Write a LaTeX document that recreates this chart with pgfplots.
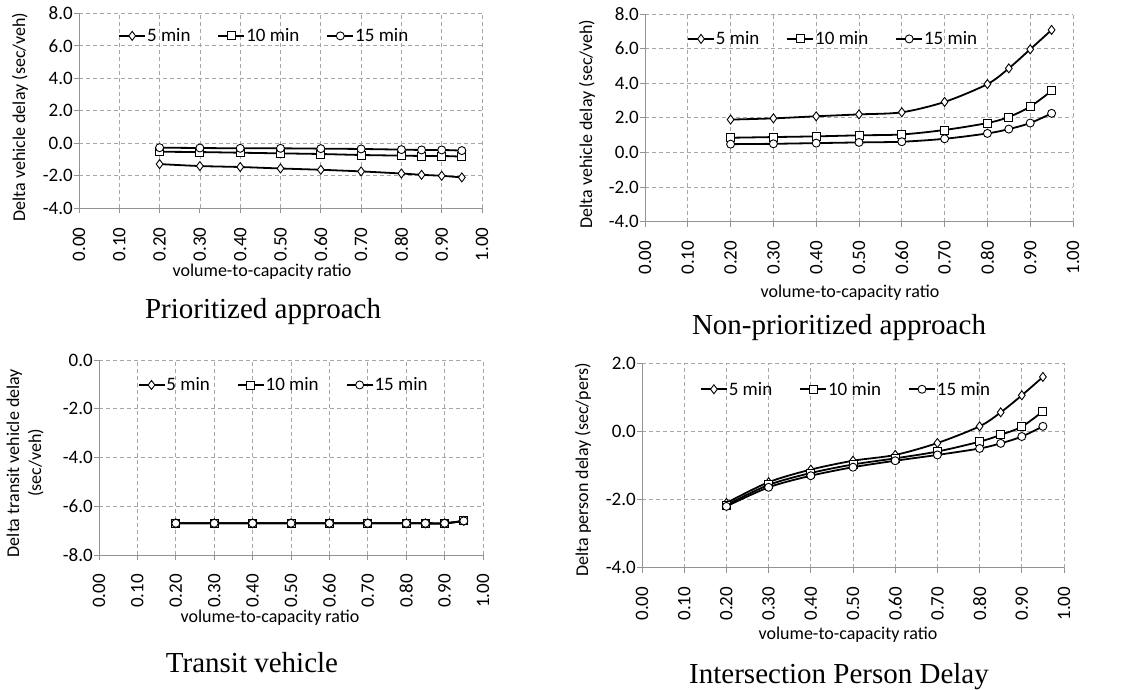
\documentclass[border=0pt]{standalone}
\usepackage{pgfplots}
\pgfplotsset{compat=1.18}
\usepackage{fontspec}
\setmainfont{Carlito}
\newfontfamily\timesf{Liberation Serif}
\newcommand\cf{\fontsize{18}{22}\selectfont}
\newcommand\lf{\fontsize{19}{22}\selectfont}
\newcommand\tf{\timesf\fontsize{29}{32}\selectfont}

\pgfplotstableread{
x a b c
0.20 -1.28 -0.52 -0.27
0.30 -1.40 -0.54 -0.29
0.40 -1.46 -0.58 -0.31
0.50 -1.55 -0.62 -0.31
0.60 -1.63 -0.66 -0.33
0.70 -1.73 -0.72 -0.35
0.80 -1.86 -0.76 -0.39
0.85 -1.94 -0.78 -0.41
0.90 -2.00 -0.78 -0.41
0.95 -2.10 -0.82 -0.45
}\tabA
\pgfplotstableread{
x a b c
0.20 1.90 0.85 0.48
0.30 1.97 0.89 0.50
0.40 2.09 0.93 0.54
0.50 2.20 0.99 0.58
0.60 2.32 1.04 0.62
0.70 2.92 1.30 0.79
0.80 3.95 1.70 1.10
0.85 4.86 2.05 1.35
0.90 5.96 2.65 1.70
0.95 7.08 3.56 2.26
}\tabB
\pgfplotstableread{
x a b c
0.20 -6.70 -6.70 -6.70
0.30 -6.70 -6.70 -6.70
0.40 -6.70 -6.70 -6.70
0.50 -6.70 -6.70 -6.70
0.60 -6.70 -6.70 -6.70
0.70 -6.70 -6.70 -6.70
0.80 -6.70 -6.70 -6.70
0.85 -6.70 -6.70 -6.70
0.90 -6.70 -6.70 -6.70
0.95 -6.60 -6.60 -6.60
}\tabC
\pgfplotstableread{
x a b c
0.20 -2.10 -2.16 -2.20
0.30 -1.49 -1.57 -1.64
0.40 -1.12 -1.22 -1.30
0.50 -0.86 -0.97 -1.05
0.60 -0.69 -0.79 -0.86
0.70 -0.34 -0.59 -0.69
0.80 0.15 -0.30 -0.50
0.85 0.56 -0.10 -0.35
0.90 1.06 0.14 -0.15
0.95 1.60 0.59 0.15
}\tabD

\pgfplotsset{
  panel/.style={
    scale only axis, anchor=south west,
    xmin=0, xmax=1,
    xtick={0,0.1,0.2,0.3,0.4,0.5,0.6,0.7,0.8,0.9,1},
    axis lines=left,
    axis line style={-, draw=gray!85, line width=0.9pt},
    tick style={draw=gray!85, line width=0.9pt},
    tick align=outside, major tick length=5pt,
    grid=major,
    grid style={draw=gray!70, line width=0.8pt, dash pattern=on 4pt off 3pt},
    /pgf/number format/assume math mode=true,
    ticklabel style={font=\lf},
    xticklabel style={rotate=90, anchor=east, inner sep=0pt,
      /pgf/number format/.cd, fixed, fixed zerofill, precision=2},
    xticklabel shift=14pt,
    yticklabel style={inner sep=1pt, /pgf/number format/.cd, fixed, fixed zerofill, precision=1},
    legend columns=3,
    legend style={draw=none, fill=none, inner sep=0pt, font=\lf, anchor=west,
      nodes={inner sep=1pt},
      /tikz/every even column/.append style={column sep=26pt}},
    legend image code/.code={\draw[mark repeat=2,mark phase=2,#1] plot coordinates {(0pt,0pt)(13pt,0pt)(26pt,0pt)};},
    every axis plot/.append style={black, line width=1.8pt, smooth},
    cycle list={
      {mark=diamond*, mark size=4.5pt, mark options={fill=white, solid, line width=0.9pt}},
      {mark=square*, mark size=4pt, mark options={fill=white, solid, line width=0.9pt}},
      {mark=*, mark size=4pt, mark options={fill=white, solid, line width=0.9pt}}
    },
  }
}

\begin{document}
\begin{tikzpicture}
\path[use as bounding box] (0,0) rectangle (1121pt,690pt);

% Panel 1
\begin{axis}[panel, at={(79pt,481.7pt)}, width=403pt, height=195pt,
  ymin=-4, ymax=8, ytick={-4,-2,0,2,4,6,8},
  legend style={at={(0.097,0.884)}}]
\addplot table[x=x,y=a]{\tabA};
\addplot table[x=x,y=b]{\tabA};
\addplot table[x=x,y=c]{\tabA};
\legend{5 min,10 min,15 min}
\end{axis}

% Panel 2
\begin{axis}[panel, at={(645pt,468.3pt)}, width=428pt, height=207.7pt,
  ymin=-4, ymax=8, ytick={-4,-2,0,2,4,6,8},
  legend style={at={(0.098,0.88)}}]
\addplot table[x=x,y=a]{\tabB};
\addplot table[x=x,y=b]{\tabB};
\addplot table[x=x,y=c]{\tabB};
\legend{5 min,10 min,15 min}
\end{axis}

% Panel 3
\begin{axis}[panel, at={(99pt,135pt)}, width=384pt, height=195pt,
  ymin=-8, ymax=0, ytick={-8,-6,-4,-2,0},
  legend style={at={(0.10,0.872)}}]
\addplot table[x=x,y=a]{\tabC};
\addplot table[x=x,y=b]{\tabC};
\addplot table[x=x,y=c]{\tabC};
\legend{5 min,10 min,15 min}
\end{axis}

% Panel 4
\begin{axis}[panel, at={(642pt,122.3pt)}, width=422pt, height=204.4pt,
  ymin=-4, ymax=2, ytick={-4,-2,0,2},
  legend style={at={(0.137,0.873)}}]
\addplot table[x=x,y=a]{\tabD};
\addplot table[x=x,y=b]{\tabD};
\addplot table[x=x,y=c]{\tabD};
\legend{5 min,10 min,15 min}
\end{axis}

% axis labels
\node[font=\cf] at (262pt,418pt) {volume-to-capacity ratio};
\node[font=\cf] at (850pt,397pt) {volume-to-capacity ratio};
\node[font=\cf] at (270pt,72pt) {volume-to-capacity ratio};
\node[font=\cf] at (848pt,55pt) {volume-to-capacity ratio};

\node[font=\cf, rotate=90] at (20pt,573pt) {Delta vehicle delay (sec/veh)};
\node[font=\cf, rotate=90] at (587pt,566pt) {Delta vehicle delay (sec/veh)};
\node[font=\cf, rotate=90, align=center] at (25pt,227pt) {Delta transit vehicle delay\\(sec/veh)};
\node[font=\cf, rotate=90] at (583pt,220pt) {Delta person delay (sec/pers)};

% titles
\node[font=\tf] at (263pt,378pt) {Prioritized approach};
\node[font=\tf] at (839pt,362pt) {Non-prioritized approach};
\node[font=\tf] at (252pt,27pt) {Transit vehicle};
\node[font=\tf] at (839pt,13pt) {Intersection Person Delay};
\end{tikzpicture}
\end{document}
